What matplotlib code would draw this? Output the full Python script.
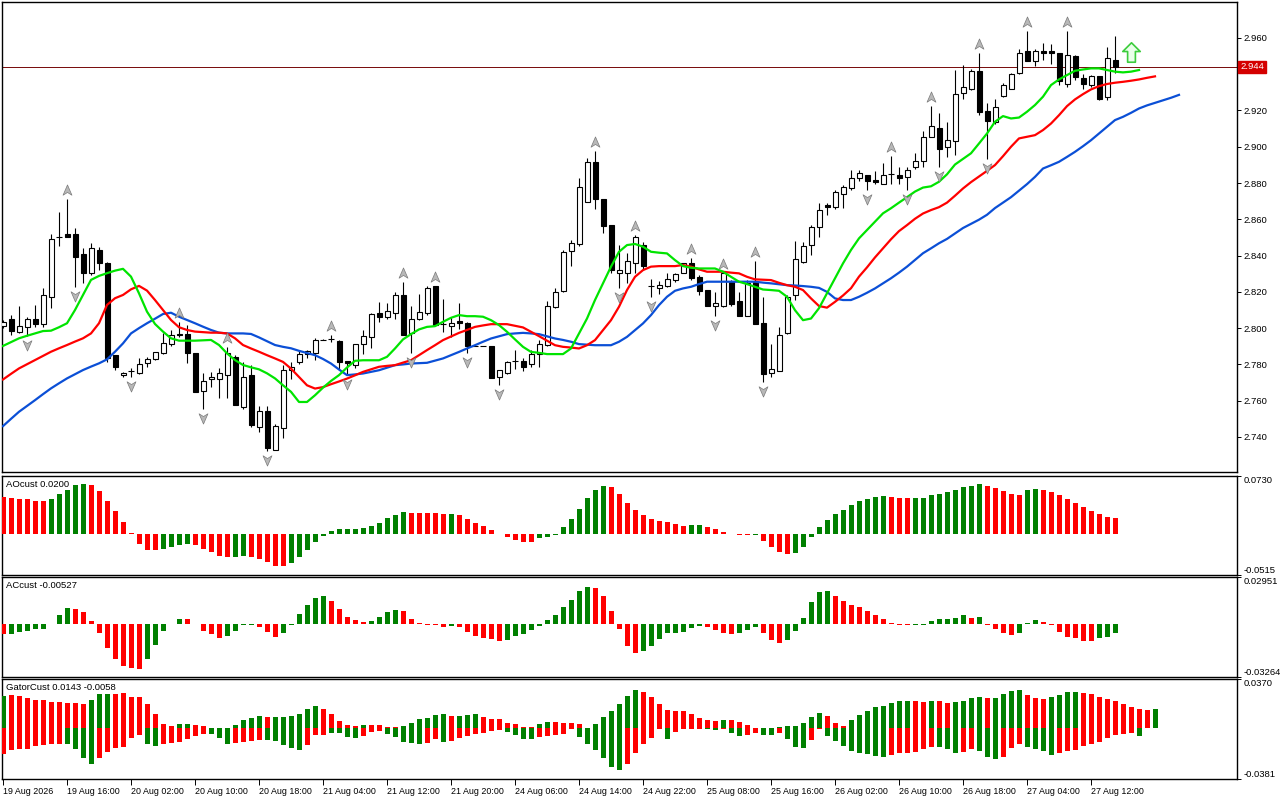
import numpy as np
import matplotlib
matplotlib.use("Agg")
import matplotlib.pyplot as plt
from matplotlib.path import Path
from matplotlib.transforms import offset_copy, blended_transform_factory

plt.rcParams['font.family'] = ['Liberation Sans', 'DejaVu Sans']

# ---------- hourly candles, 19 Aug 08:00 .. 27 Aug 15:00 ----------
opens = [2.8012, 2.8049, 2.7977, 2.8008, 2.8049, 2.8023, 2.8170, 2.8505, 2.8520, 2.8520,
         2.8409, 2.8306, 2.8431, 2.8358, 2.7852, 2.7740, 2.7760, 2.7754, 2.7809, 2.7828,
         2.7861, 2.7911, 2.7966, 2.7966, 2.7861, 2.7653, 2.7718, 2.7718, 2.7741, 2.7839,
         2.7567, 2.7741, 2.7456, 2.7545, 2.7331, 2.7447, 2.7768, 2.7814, 2.7857, 2.7864,
         2.7937, 2.7937, 2.7928, 2.7818, 2.7796, 2.7910, 2.7949, 2.8085, 2.8059, 2.8085,
         2.8182, 2.7976, 2.8048, 2.8081, 2.8232, 2.8022, 2.8011, 2.8039, 2.8026, 2.7901,
         2.7901, 2.7901, 2.7728, 2.7753, 2.7818, 2.7818, 2.7800, 2.7857, 2.7906, 2.8118,
         2.8204, 2.8427, 2.8464, 2.8697, 2.8918, 2.8710, 2.8567, 2.8306, 2.8306, 2.8357,
         2.8458, 2.8236, 2.8219, 2.8234, 2.8265, 2.8306, 2.8357, 2.8283, 2.8210, 2.8122,
         2.8123, 2.8256, 2.8149, 2.8068, 2.8256, 2.8026, 2.7753, 2.7765, 2.7976, 2.8182,
         2.8366, 2.8458, 2.8556, 2.8679, 2.8666, 2.8738, 2.8775, 2.8825, 2.8847, 2.8816,
         2.8797, 2.8847, 2.8847, 2.8834, 2.8886, 2.8922, 2.9055, 2.9106, 2.8996, 2.9031,
         2.9294, 2.9316, 2.9417, 2.9196, 2.9134, 2.9279, 2.9316, 2.9404, 2.9528, 2.9474,
         2.9528, 2.9528, 2.9515, 2.9346, 2.9500, 2.9377, 2.9340, 2.9390, 2.9276, 2.9478]
highs = [2.8045, 2.8073, 2.8122, 2.8063, 2.8128, 2.8224, 2.8520, 2.8643, 2.8711, 2.8551,
         2.8441, 2.8468, 2.8450, 2.8362, 2.7852, 2.7760, 2.7778, 2.7833, 2.7843, 2.7870,
         2.7971, 2.7990, 2.8036, 2.8017, 2.7861, 2.7751, 2.7760, 2.7778, 2.7898, 2.7852,
         2.7815, 2.7797, 2.7570, 2.7570, 2.7471, 2.7797, 2.7814, 2.7879, 2.7879, 2.7943,
         2.7940, 2.7961, 2.7934, 2.7818, 2.7910, 2.7989, 2.8085, 2.8145, 2.8136, 2.8201,
         2.8256, 2.8122, 2.8188, 2.8232, 2.8232, 2.8158, 2.8063, 2.8136, 2.8035, 2.7903,
         2.7903, 2.7901, 2.7772, 2.7818, 2.7879, 2.7833, 2.7879, 2.7937, 2.8149, 2.8219,
         2.8431, 2.8486, 2.8826, 2.8937, 2.8979, 2.8710, 2.8567, 2.8458, 2.8412, 2.8513,
         2.8477, 2.8269, 2.8261, 2.8302, 2.8302, 2.8361, 2.8385, 2.8293, 2.8210, 2.8197,
         2.8302, 2.8265, 2.8197, 2.8265, 2.8370, 2.8173, 2.7910, 2.8007, 2.8182, 2.8480,
         2.8477, 2.8569, 2.8692, 2.8688, 2.8762, 2.8789, 2.8871, 2.8874, 2.8847, 2.8865,
         2.8908, 2.8948, 2.8889, 2.8889, 2.8967, 2.9088, 2.9226, 2.9184, 2.9138, 2.9423,
         2.9450, 2.9426, 2.9515, 2.9239, 2.9266, 2.9353, 2.9408, 2.9537, 2.9640, 2.9537,
         2.9574, 2.9566, 2.9515, 2.9640, 2.9506, 2.9399, 2.9395, 2.9390, 2.9552, 2.9610]
lows = [2.8000, 2.7962, 2.7971, 2.7959, 2.8008, 2.8008, 2.8109, 2.8454, 2.8500, 2.8229,
        2.8247, 2.8293, 2.8321, 2.7815, 2.7769, 2.7729, 2.7729, 2.7747, 2.7787, 2.7824,
        2.7857, 2.7902, 2.7953, 2.7809, 2.7649, 2.7557, 2.7677, 2.7613, 2.7613, 2.7576,
        2.7552, 2.7456, 2.7429, 2.7322, 2.7331, 2.7392, 2.7722, 2.7805, 2.7833, 2.7823,
        2.7932, 2.7925, 2.7772, 2.7741, 2.7783, 2.7860, 2.7888, 2.8035, 2.8048, 2.8048,
        2.7965, 2.7864, 2.8044, 2.8072, 2.8020, 2.7980, 2.7952, 2.7998, 2.7864, 2.7899,
        2.7899, 2.7726, 2.7685, 2.7750, 2.7777, 2.7765, 2.7787, 2.7787, 2.7901, 2.8109,
        2.8197, 2.8342, 2.8453, 2.8697, 2.8655, 2.8526, 2.8302, 2.8219, 2.8247, 2.8306,
        2.8320, 2.8173, 2.8191, 2.8228, 2.8256, 2.8302, 2.8265, 2.8182, 2.8123, 2.8066,
        2.8118, 2.8123, 2.8068, 2.8068, 2.8022, 2.7704, 2.7728, 2.7765, 2.7967, 2.8155,
        2.8361, 2.8403, 2.8504, 2.8624, 2.8655, 2.8664, 2.8760, 2.8812, 2.8760, 2.8797,
        2.8797, 2.8797, 2.8797, 2.8760, 2.8880, 2.8886, 2.9055, 2.8886, 2.8944, 2.8954,
        2.9266, 2.9312, 2.9174, 2.8935, 2.9128, 2.9276, 2.9316, 2.9399, 2.9474, 2.9447,
        2.9478, 2.9454, 2.9340, 2.9327, 2.9368, 2.9316, 2.9331, 2.9257, 2.9257, 2.9404]
closes = [2.8036, 2.7986, 2.8012, 2.8049, 2.8023, 2.8181, 2.8490, 2.8503, 2.8505, 2.8395,
          2.8306, 2.8441, 2.8358, 2.7837, 2.7787, 2.7754, 2.7762, 2.7800, 2.7828, 2.7866,
          2.7916, 2.7962, 2.7962, 2.7861, 2.7649, 2.7708, 2.7729, 2.7751, 2.7861, 2.7576,
          2.7729, 2.7465, 2.7545, 2.7337, 2.7460, 2.7771, 2.7787, 2.7860, 2.7875, 2.7937,
          2.7937, 2.7938, 2.7814, 2.7809, 2.7910, 2.7958, 2.8076, 2.8059, 2.8096, 2.8182,
          2.7965, 2.8048, 2.8087, 2.8219, 2.8020, 2.8022, 2.8026, 2.8026, 2.7901, 2.7901,
          2.7901, 2.7726, 2.7768, 2.7811, 2.7818, 2.7787, 2.7860, 2.7915, 2.8122, 2.8197,
          2.8418, 2.8467, 2.8777, 2.8918, 2.8712, 2.8565, 2.8320, 2.8320, 2.8370, 2.8500,
          2.8342, 2.8234, 2.8237, 2.8269, 2.8296, 2.8357, 2.8278, 2.8204, 2.8123, 2.8136,
          2.8302, 2.8133, 2.8068, 2.8250, 2.8022, 2.7750, 2.7777, 2.7965, 2.8169, 2.8379,
          2.8455, 2.8556, 2.8651, 2.8666, 2.8753, 2.8777, 2.8825, 2.8856, 2.8812, 2.8806,
          2.8847, 2.8849, 2.8825, 2.8874, 2.8922, 2.9055, 2.9116, 2.8985, 2.9036, 2.9289,
          2.9327, 2.9417, 2.9193, 2.9143, 2.9217, 2.9340, 2.9401, 2.9518, 2.9474, 2.9528,
          2.9515, 2.9515, 2.9364, 2.9506, 2.9386, 2.9344, 2.9390, 2.9266, 2.9487, 2.9441]

# ---------- alligator (jaw shifted 8, teeth 5, lips 3 bars) ----------
jaw = [2.7460, 2.7500, 2.7539, 2.7571, 2.7603, 2.7636, 2.7668, 2.7696, 2.7723, 2.7746,
       2.7769, 2.7788, 2.7806, 2.7828, 2.7870, 2.7916, 2.7971, 2.8000, 2.8027, 2.8052,
       2.8078, 2.8085, 2.8063, 2.8045, 2.8027, 2.8008, 2.7990, 2.7975, 2.7971, 2.7971,
       2.7971, 2.7968, 2.7949, 2.7928, 2.7907, 2.7897, 2.7889, 2.7875, 2.7863, 2.7851,
       2.7830, 2.7805, 2.7772, 2.7741, 2.7745, 2.7750, 2.7759, 2.7768, 2.7782, 2.7796,
       2.7800, 2.7805, 2.7807, 2.7809, 2.7821, 2.7833, 2.7851, 2.7869, 2.7888, 2.7906,
       2.7925, 2.7943, 2.7955, 2.7967, 2.7971, 2.7974, 2.7971, 2.7967, 2.7955, 2.7943,
       2.7935, 2.7925, 2.7912, 2.7909, 2.7906, 2.7906, 2.7906, 2.7925, 2.7952, 2.7989,
       2.8026, 2.8072, 2.8127, 2.8173, 2.8206, 2.8219, 2.8228, 2.8243, 2.8256, 2.8256,
       2.8256, 2.8256, 2.8256, 2.8256, 2.8256, 2.8251, 2.8247, 2.8242, 2.8237, 2.8235,
       2.8232, 2.8228, 2.8222, 2.8200, 2.8164, 2.8155, 2.8155, 2.8173, 2.8195, 2.8219,
       2.8247, 2.8275, 2.8306, 2.8339, 2.8376, 2.8413, 2.8440, 2.8468, 2.8492, 2.8522,
       2.8552, 2.8575, 2.8598, 2.8625, 2.8662, 2.8692, 2.8722, 2.8758, 2.8794, 2.8834,
       2.8880, 2.8898, 2.8917, 2.8944, 2.8972, 2.9003, 2.9036, 2.9073, 2.9110, 2.9147,
       2.9165, 2.9187, 2.9211, 2.9228, 2.9242, 2.9256, 2.9270, 2.9286]
teeth = [2.7717, 2.7748, 2.7778, 2.7801, 2.7824, 2.7847, 2.7870, 2.7889, 2.7907, 2.7926,
         2.7944, 2.7971, 2.8027, 2.8128, 2.8165, 2.8183, 2.8214, 2.8233, 2.8207, 2.8155,
         2.8100, 2.8045, 2.8005, 2.7990, 2.7981, 2.7978, 2.7975, 2.7975, 2.7971, 2.7944,
         2.7907, 2.7888, 2.7870, 2.7851, 2.7833, 2.7814, 2.7777, 2.7731, 2.7685, 2.7667,
         2.7675, 2.7691, 2.7706, 2.7722, 2.7740, 2.7759, 2.7773, 2.7787, 2.7792, 2.7796,
         2.7810, 2.7823, 2.7851, 2.7879, 2.7906, 2.7934, 2.7954, 2.7974, 2.7990, 2.8007,
         2.8015, 2.8022, 2.8022, 2.8022, 2.8013, 2.8004, 2.7980, 2.7956, 2.7931, 2.7906,
         2.7897, 2.7893, 2.7888, 2.7906, 2.7934, 2.7989, 2.8044, 2.8118, 2.8210, 2.8283,
         2.8320, 2.8339, 2.8342, 2.8342, 2.8342, 2.8348, 2.8339, 2.8324, 2.8311, 2.8311,
         2.8311, 2.8306, 2.8302, 2.8283, 2.8269, 2.8267, 2.8265, 2.8250, 2.8237, 2.8228,
         2.8210, 2.8164, 2.8122, 2.8113, 2.8145, 2.8180, 2.8220, 2.8284, 2.8335, 2.8390,
         2.8440, 2.8490, 2.8535, 2.8568, 2.8603, 2.8632, 2.8651, 2.8667, 2.8692, 2.8730,
         2.8770, 2.8805, 2.8836, 2.8867, 2.8899, 2.8948, 2.9000, 2.9046, 2.9055, 2.9064,
         2.9092, 2.9128, 2.9174, 2.9224, 2.9261, 2.9290, 2.9316, 2.9334, 2.9346, 2.9353,
         2.9358, 2.9364, 2.9371, 2.9380, 2.9388]
lips = [2.7902, 2.7923, 2.7944, 2.7958, 2.7971, 2.7984, 2.7986, 2.8005, 2.8027, 2.8100,
        2.8183, 2.8266, 2.8288, 2.8303, 2.8317, 2.8327, 2.8284, 2.8192, 2.8091, 2.8023,
        2.7981, 2.7944, 2.7931, 2.7931, 2.7931, 2.7933, 2.7935, 2.7907, 2.7861, 2.7824,
        2.7797, 2.7784, 2.7773, 2.7751, 2.7723, 2.7685, 2.7649, 2.7593, 2.7593, 2.7630,
        2.7672, 2.7709, 2.7741, 2.7783, 2.7820, 2.7823, 2.7823, 2.7823, 2.7842, 2.7888,
        2.7938, 2.7967, 2.7993, 2.8007, 2.8011, 2.8035, 2.8057, 2.8072, 2.8066, 2.8066,
        2.8063, 2.8044, 2.8017, 2.7980, 2.7938, 2.7897, 2.7869, 2.7864, 2.7857, 2.7857,
        2.7857, 2.7888, 2.7971, 2.8053, 2.8155, 2.8247, 2.8339, 2.8421, 2.8458, 2.8464,
        2.8449, 2.8421, 2.8416, 2.8412, 2.8375, 2.8342, 2.8333, 2.8329, 2.8329, 2.8329,
        2.8311, 2.8283, 2.8256, 2.8243, 2.8228, 2.8213, 2.8210, 2.8206, 2.8173, 2.8099,
        2.8044, 2.8053, 2.8110, 2.8192, 2.8275, 2.8357, 2.8431, 2.8495, 2.8541, 2.8587,
        2.8633, 2.8661, 2.8692, 2.8722, 2.8753, 2.8775, 2.8782, 2.8807, 2.8848, 2.8902,
        2.8933, 2.8964, 2.9018, 2.9073, 2.9138, 2.9169, 2.9156, 2.9161, 2.9193, 2.9230,
        2.9276, 2.9340, 2.9371, 2.9395, 2.9419, 2.9426, 2.9432, 2.9432, 2.9423, 2.9414,
        2.9410, 2.9414, 2.9423]

frac_up = [8, 22, 28, 41, 50, 54, 74, 79, 86, 90, 94, 111, 116, 122, 128, 133]
frac_dn = [3, 9, 16, 25, 33, 43, 51, 58, 62, 77, 81, 89, 95, 108, 113, 117, 123]
signal_bar, signal_price = 141, 2.9523
last_price = 2.944

# ---------- oscillators ----------
ao = [0.0469, 0.0453, 0.0440, 0.0436, 0.0419, 0.0419, 0.0440, 0.0503, 0.0557, 0.0616,
      0.0629, 0.0616, 0.0545, 0.0419, 0.0293, 0.0147, 0.0013, -0.0126, -0.0201, -0.0202,
      -0.0189, -0.0159, -0.0134, -0.0126, -0.0138, -0.0189, -0.0230, -0.0272, -0.0293, -0.0292,
      -0.0281, -0.0285, -0.0314, -0.0356, -0.0398, -0.0399, -0.0369, -0.0293, -0.0201, -0.0105,
      -0.0021, 0.0034, 0.0063, 0.0064, 0.0065, 0.0075, 0.0105, 0.0138, 0.0197, 0.0243,
      0.0272, 0.0264, 0.0263, 0.0262, 0.0261, 0.0251, 0.0253, 0.0239, 0.0189, 0.0138,
      0.0101, 0.0050, 0.0005, -0.0042, -0.0075, -0.0096, -0.0098, -0.0055, -0.0034, -0.0008,
      0.0092, 0.0189, 0.0314, 0.0453, 0.0553, 0.0599, 0.0587, 0.0503, 0.0385, 0.0302,
      0.0239, 0.0189, 0.0168, 0.0147, 0.0126, 0.0105, 0.0113, 0.0114, 0.0084, 0.0063,
      0.0021, -0.0005, -0.0012, -0.0018, -0.0015, -0.0084, -0.0168, -0.0222, -0.0251, -0.0239,
      -0.0159, -0.0042, 0.0084, 0.0176, 0.0251, 0.0302, 0.0365, 0.0411, 0.0440, 0.0461,
      0.0473, 0.0461, 0.0453, 0.0451, 0.0453, 0.0455, 0.0490, 0.0503, 0.0524, 0.0557,
      0.0587, 0.0603, 0.0629, 0.0599, 0.0574, 0.0536, 0.0503, 0.0490, 0.0553, 0.0566,
      0.0553, 0.0524, 0.0490, 0.0440, 0.0385, 0.0335, 0.0285, 0.0251, 0.0210, 0.0200]
ao_dir = ("RRRRRR" "GGGGG" "RRRRRRRRR" "GGGG" "RRRRR" "GG" "RRRRR" "GGGGGGGGGGGGGGG"
          "RRRRR" "G" "RRRRRRRRRR" "GGGGGGGGG" "RRRRRRRRRR" "GG" "RRRRRR" "G" "RRRR"
          "GGGGGGGGGGGG" "RRR" "GGGGGGGGG" "RRRRR" "GG" "RRRRRRRRRR")

ac = [-0.0062, -0.0058, -0.0046, -0.0041, -0.0031, -0.0025, 0.0006, 0.0058, 0.0104, 0.0099,
      0.0079, 0.0021, -0.0056, -0.0149, -0.0217, -0.0255, -0.0273, -0.0274, -0.0217, -0.0128,
      -0.0041, 0.0006, 0.0037, 0.0036, 0.0006, -0.0041, -0.0062, -0.0087, -0.0072, -0.0041,
      -0.0006, -0.0005, -0.0017, -0.0048, -0.0075, -0.0056, -0.0004, 0.0068, 0.0124, 0.0166,
      0.0174, 0.0149, 0.0099, 0.0048, 0.0025, 0.0014, 0.0021, 0.0048, 0.0077, 0.0087,
      0.0083, 0.0037, 0.0010, -0.0002, -0.0004, -0.0017, -0.0010, -0.0017, -0.0048, -0.0072,
      -0.0087, -0.0093, -0.0104, -0.0097, -0.0072, -0.0062, -0.0035, -0.0010, 0.0027, 0.0062,
      0.0110, 0.0155, 0.0211, 0.0236, 0.0228, 0.0174, 0.0083, -0.0031, -0.0135, -0.0180,
      -0.0166, -0.0135, -0.0089, -0.0056, -0.0054, -0.0046, -0.0021, -0.0010, -0.0014, -0.0035,
      -0.0056, -0.0058, -0.0050, -0.0035, -0.0017, -0.0056, -0.0097, -0.0118, -0.0097, -0.0041,
      0.0041, 0.0139, 0.0201, 0.0211, 0.0180, 0.0143, 0.0124, 0.0106, 0.0083, 0.0062,
      0.0037, 0.0012, -0.0002, -0.0006, -0.0005, -0.0004, 0.0019, 0.0031, 0.0032, 0.0043,
      0.0056, 0.0043, 0.0044, -0.0001, -0.0025, -0.0056, -0.0066, -0.0056, 0.0010, 0.0025,
      0.0014, -0.0004, -0.0046, -0.0079, -0.0087, -0.0104, -0.0104, -0.0087, -0.0079, -0.0053]
ac_dir = ("R" "GGGGGGGG" "RRRRRRRRR" "GGGGG" "RRRRR" "GGGG" "RRR" "GGGGGG" "RRRRR" "GGGG"
          "RRRRRR" "G" "RRRRRR" "GGGGGGGGGGG" "RRRRRR" "GGGGGGGG" "RRRR" "GGG" "RRR"
          "GGGGGG" "RRRRRRRRRR" "GGGGGGG" "R" "G" "RRRR" "GGG" "RRRRRRR" "GGG")

gator_up = [0.0243, 0.0250, 0.0243, 0.0230, 0.0210, 0.0209, 0.0200, 0.0199, 0.0188, 0.0187,
            0.0186, 0.0210, 0.0255, 0.0256, 0.0254, 0.0262, 0.0238, 0.0237, 0.0180, 0.0105,
            0.0030, 0.0018, 0.0030, 0.0031, 0.0025, 0.0018, 0.0005, 0.0003, 0.0002, 0.0025,
            0.0060, 0.0080, 0.0090, 0.0085, 0.0086, 0.0087, 0.0093, 0.0110, 0.0143, 0.0168,
            0.0143, 0.0105, 0.0055, 0.0025, 0.0015, 0.0025, 0.0024, 0.0023, 0.0010, 0.0010,
            0.0018, 0.0040, 0.0068, 0.0080, 0.0100, 0.0105, 0.0093, 0.0094, 0.0100, 0.0105,
            0.0088, 0.0073, 0.0068, 0.0043, 0.0030, 0.0008, 0.0007, 0.0030, 0.0048, 0.0047,
            0.0038, 0.0037, 0.0030, 0.0000, 0.0030, 0.0083, 0.0128, 0.0180, 0.0240, 0.0285,
            0.0275, 0.0233, 0.0180, 0.0135, 0.0128, 0.0127, 0.0105, 0.0075, 0.0060, 0.0053,
            0.0060, 0.0059, 0.0045, 0.0023, 0.0002, 0.0000, 0.0000, 0.0008, 0.0015, 0.0015,
            0.0038, 0.0083, 0.0113, 0.0090, 0.0038, 0.0015, 0.0060, 0.0098, 0.0128, 0.0158,
            0.0165, 0.0188, 0.0203, 0.0203, 0.0202, 0.0201, 0.0203, 0.0202, 0.0188, 0.0195,
            0.0203, 0.0225, 0.0233, 0.0225, 0.0226, 0.0255, 0.0278, 0.0285, 0.0248, 0.0225,
            0.0218, 0.0233, 0.0248, 0.0270, 0.0271, 0.0263, 0.0255, 0.0233, 0.0218, 0.0203,
            0.0180, 0.0158, 0.0143, 0.0135, 0.0143]
gator_up_dir = ("G" "RRRRRRRRRR" "GGG" "RRRRRRRR" "GG" "RRRRR" "GGGG" "R" "GGGGGG" "RRRRR"
                "G" "RRRR" "GGGGGG" "R" "GGG" "RRRRRRR" "GG" "RRRRR" "GGGGGG" "RRRRRRRRRR"
                "G" "RRRRRR" "GGGGGG" "RRR" "GGGGGGGG" "RR" "G" "RR" "GGGG" "R" "GGGG"
                "RRR" "GGGG" "RRRRRRRRR" "G")
gator_dn = [-0.0190, -0.0165, -0.0158, -0.0153, -0.0133, -0.0128, -0.0120, -0.0115, -0.0120, -0.0158,
            -0.0225, -0.0270, -0.0225, -0.0175, -0.0150, -0.0140, -0.0070, -0.0050, -0.0120, -0.0133,
            -0.0115, -0.0114, -0.0103, -0.0083, -0.0058, -0.0040, -0.0042, -0.0075, -0.0115, -0.0114,
            -0.0100, -0.0099, -0.0090, -0.0091, -0.0095, -0.0125, -0.0150, -0.0165, -0.0125, -0.0050,
            -0.0049, -0.0033, -0.0034, -0.0065, -0.0075, -0.0058, -0.0025, -0.0024, -0.0040, -0.0065,
            -0.0103, -0.0110, -0.0120, -0.0110, -0.0083, -0.0103, -0.0095, -0.0075, -0.0055, -0.0045,
            -0.0038, -0.0020, -0.0013, -0.0028, -0.0050, -0.0083, -0.0082, -0.0065, -0.0058, -0.0050,
            -0.0045, -0.0008, -0.0065, -0.0118, -0.0165, -0.0225, -0.0290, -0.0313, -0.0268, -0.0188,
            -0.0120, -0.0075, -0.0008, -0.0083, -0.0028, -0.0008, -0.0007, -0.0006, -0.0008, -0.0015,
            -0.0008, -0.0038, -0.0058, -0.0050, -0.0038, -0.0050, -0.0050, -0.0038, -0.0083, -0.0140,
            -0.0150, -0.0088, -0.0008, -0.0058, -0.0095, -0.0133, -0.0170, -0.0185, -0.0193, -0.0208,
            -0.0215, -0.0200, -0.0185, -0.0185, -0.0178, -0.0155, -0.0140, -0.0142, -0.0155, -0.0185,
            -0.0178, -0.0155, -0.0170, -0.0215, -0.0230, -0.0215, -0.0148, -0.0118, -0.0140, -0.0155,
            -0.0170, -0.0200, -0.0185, -0.0170, -0.0163, -0.0133, -0.0118, -0.0103, -0.0073, -0.0050,
            -0.0043, -0.0035, -0.0058]
gator_dn_dir = ("RRRRRRRR" "GGGG" "RRRRRR" "GG" "RRRRRR" "GGG" "RRRR" "GGGGG" "RRR" "GGGG"
                "RRR" "GGGGG" "RR" "G" "RRRRRRR" "GGGG" "RRRRR" "GGGGGG" "RRRRR" "G" "RRRR"
                "GG" "R" "GG" "RR" "GG" "R" "GGG" "RR" "GGGGGGGG" "RRRRRR" "GGG" "RR" "GGG"
                "RRR" "GGGG" "RRRRRRRRRR" "G")

time_labels = ["19 Aug 2026", "19 Aug 16:00", "20 Aug 02:00", "20 Aug 10:00", "20 Aug 18:00",
               "21 Aug 04:00", "21 Aug 12:00", "21 Aug 20:00", "24 Aug 06:00", "24 Aug 14:00",
               "24 Aug 22:00", "25 Aug 08:00", "25 Aug 16:00", "26 Aug 02:00", "26 Aug 10:00",
               "26 Aug 18:00", "27 Aug 04:00", "27 Aug 12:00"]

GREEN, RED = '#008000', '#ff0000'
pal = {'G': GREEN, 'R': RED}
PX = 0.72  # one pixel in points at dpi 100

fig = plt.figure(figsize=(12.8, 8), dpi=100)
fig.patch.set_facecolor('white')
W, H = 1280.0, 800.0


def panel(top, bottom):
    a = fig.add_axes([2 / W, 1 - bottom / H, 1235 / W, (bottom - top) / H])
    a.set_xlim(-0.125, 154.25)
    for s in a.spines.values():
        s.set_linewidth(1.0)
        s.set_color('black')
    a.yaxis.tick_right()
    a.tick_params(axis='y', direction='out', length=3, width=0.7, labelsize=6.8, pad=2)
    a.tick_params(axis='x', bottom=False, labelbottom=False)
    return a


ax = panel(2, 472)
ao_ax = panel(476, 575)
ac_ax = panel(577, 677)
gt_ax = panel(679, 779)

# ---------- price panel ----------
o, h, l, c = map(np.array, (opens, highs, lows, closes))
x = np.arange(len(o))
ax.set_ylim(2.7207, 2.9798)
ax.vlines(x, l, h, color='black', lw=PX * 1.1, zorder=3)
lo = np.minimum(o, c)
ht = np.abs(c - o)
flat = ht < 0.0004
face = np.where(c >= o, 'white', 'black')
ax.bar(x[~flat], ht[~flat], bottom=lo[~flat], width=0.625, color=face[~flat],
       edgecolor='black', linewidth=PX * 1.1, zorder=4)
ax.hlines(c[flat], x[flat] - 0.32, x[flat] + 0.32, color='black', lw=PX * 1.1, zorder=4)

ax.plot(np.arange(len(jaw)), jaw, color='#0b4fd6', lw=1.6, zorder=5)
ax.plot(np.arange(len(teeth)), teeth, color='#ff0000', lw=1.6, zorder=5)
ax.plot(np.arange(len(lips)), lips, color='#00e400', lw=1.6, zorder=5)

arrow_up = Path([(0, 1), (0.8, -0.85), (0, -0.35), (-0.8, -0.85), (0, 1)],
                [Path.MOVETO, Path.LINETO, Path.LINETO, Path.LINETO, Path.CLOSEPOLY])
arrow_dn = Path([(0, -1), (0.8, 0.85), (0, 0.35), (-0.8, 0.85), (0, -1)],
                [Path.MOVETO, Path.LINETO, Path.LINETO, Path.LINETO, Path.CLOSEPOLY])
tr_up = offset_copy(ax.transData, fig=fig, y=9, units='dots')
tr_dn = offset_copy(ax.transData, fig=fig, y=-9, units='dots')
ax.plot(frac_up, h[frac_up], ls='none', marker=arrow_up, ms=8, mfc='#b8b8b8',
        mec='#7a7a7a', mew=0.5, transform=tr_up, zorder=6)
ax.plot(frac_dn, l[frac_dn], ls='none', marker=arrow_dn, ms=8, mfc='#b8b8b8',
        mec='#7a7a7a', mew=0.5, transform=tr_dn, zorder=6)

block_up = Path([(0, 1), (0.9, 0.1), (0.4, 0.1), (0.4, -1), (-0.4, -1), (-0.4, 0.1),
                 (-0.9, 0.1), (0, 1)],
                [Path.MOVETO] + [Path.LINETO] * 6 + [Path.CLOSEPOLY])
ax.plot([signal_bar], [signal_price], ls='none', marker=block_up, ms=14,
        mfc='#eaffea', mec='#3ccc3c', mew=1.2, zorder=6)

ax.axhline(last_price, color='#7a1010', lw=PX, zorder=2)
ax.set_yticks([2.740, 2.760, 2.780, 2.800, 2.820, 2.840, 2.860, 2.880, 2.900, 2.920, 2.960])
ax.set_yticklabels(['%.3f' % v for v in ax.get_yticks()])
btr = blended_transform_factory(ax.transAxes, ax.transData)
ax.text(1.0025, last_price, '%.3f' % last_price, transform=btr, ha='left', va='center',
        fontsize=6.8, color='white', clip_on=False, zorder=10,
        bbox=dict(boxstyle='square,pad=0.2', fc='#d40000', ec='#d40000'))


# ---------- oscillator panels ----------
def osc(a, vals, dirs, lo_, hi_, title, fmt):
    a.bar(np.arange(len(vals)), vals, width=0.625, color=[pal[d] for d in dirs], zorder=3)
    a.set_ylim(lo_, hi_)
    a.set_yticks([lo_, hi_])
    a.set_yticklabels([fmt % lo_, fmt % hi_])
    labs = a.get_yticklabels()
    labs[0].set_verticalalignment('bottom')
    labs[1].set_verticalalignment('top')
    a.text(0.0035, 0.955, title, transform=a.transAxes, ha='left', va='top', fontsize=6.8)


osc(ao_ax, ao, ao_dir, -0.0515, 0.0730, 'AOcust 0.0200', '%.4f')
osc(ac_ax, ac, ac_dir, -0.03264, 0.02951, 'ACcust -0.00527', '%.5f')
osc(gt_ax, gator_up, gator_up_dir, -0.0381, 0.0370, 'GatorCust 0.0143 -0.0058', '%.4f')
gt_ax.bar(np.arange(len(gator_dn)), gator_dn, width=0.625,
          color=[pal[d] for d in gator_dn_dir], zorder=3)

gt_ax.tick_params(axis='x', bottom=True, labelbottom=True, direction='out',
                  length=4.5, width=0.7, labelsize=6.4, pad=1)
gt_ax.set_xticks(np.arange(0, 8 * len(time_labels), 8))
gt_ax.set_xticklabels(time_labels)
for lbl in gt_ax.get_xticklabels():
    lbl.set_horizontalalignment('left')

fig.savefig('out.png', dpi=100, facecolor='white')
